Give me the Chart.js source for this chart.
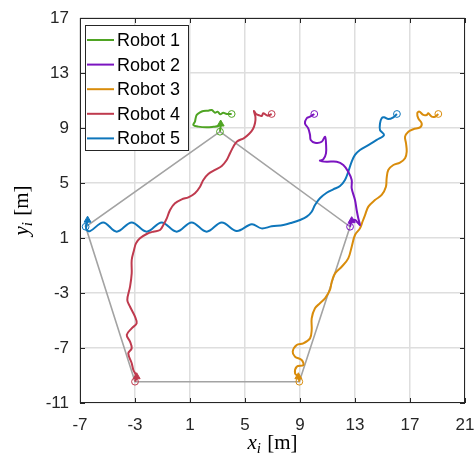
<!DOCTYPE html>
<html>
<head>
<meta charset="utf-8">
<script src="https://cdn.jsdelivr.net/npm/chart.js@4/dist/chart.umd.min.js"></script>
<style>
  html, body { margin: 0; padding: 0; background: #ffffff; }
  #wrap { width: 476px; height: 462px; }
</style>
</head>
<body>
<div id="wrap"><canvas id="c" width="476" height="462"></canvas></div>
<script>
// Axis ranges and ticks
const xTicks = [-7, -3, 1, 5, 9, 13, 17, 21];
const yTicks = [-11, -7, -3, 1, 5, 9, 13, 17];

// Robot names
const robotNames = ['Robot 1', 'Robot 2', 'Robot 3', 'Robot 4', 'Robot 5'];

// Trajectories [x, y] in metres: start circle, path, heading triangle, goal circle
const robot1 = [[4.03,10.02],[3.67,10.02],[3.42,10.11],[3.2,10.0],[3.0,10.19],[2.82,10.11],[2.58,10.31],[2.33,10.26],[1.97,10.24],[1.73,10.14],[1.49,9.95],[1.41,9.71],[1.36,9.46],[1.24,9.22],[1.6,9.1],[2.21,9.05],[2.69,9.09],[3.06,9.15],[3.23,9.29],[3.18,8.73]];
const robot2 = [[10.04,10.02],[9.73,9.82],[9.49,9.71],[9.36,9.34],[9.6,8.98],[9.73,8.49],[9.78,8.13],[10.09,7.93],[10.58,8.0],[10.82,8.37],[10.89,7.89],[10.89,7.16],[10.69,6.72],[10.45,6.62],[10.94,6.55],[11.67,6.55],[12.15,6.31],[12.51,5.82],[12.76,5.22],[12.76,4.61],[13.0,3.76],[13.12,3.04],[13.24,2.43],[13.36,1.95],[13.24,2.07],[13.0,2.31],[12.76,2.26],[12.64,1.82]];
const robot3 = [[19.06,10.02],[18.82,9.82],[18.58,9.82],[18.33,10.07],[18.22,9.95],[17.97,9.95],[17.68,10.19],[17.53,10.07],[17.6,9.71],[17.85,9.34],[17.73,9.05],[17.24,8.91],[16.88,8.73],[16.64,8.37],[16.71,7.89],[16.76,7.28],[16.64,6.8],[16.27,6.48],[15.79,6.31],[15.42,5.95],[15.3,5.34],[15.25,4.73],[14.94,4.13],[14.45,3.76],[13.97,3.28],[13.73,2.67],[13.55,2.2],[13.36,1.7],[13.0,1.22],[12.76,0.37],[12.51,-0.48],[12.03,-1.09],[11.55,-1.57],[11.31,-2.18],[11.18,-2.78],[10.82,-3.39],[10.45,-3.75],[10.09,-4.11],[9.85,-4.84],[9.85,-5.69],[9.73,-6.3],[9.24,-6.66],[8.76,-6.78],[8.47,-7.27],[8.64,-7.63],[9.12,-7.87],[9.24,-8.24],[8.76,-8.36],[8.64,-8.84],[8.88,-9.09],[8.95,-9.45]];
const robot4 = [[6.94,10.02],[6.69,9.9],[6.53,9.95],[6.33,10.07],[6.21,9.87],[5.97,9.95],[5.8,10.02],[5.65,10.24],[5.76,9.8],[5.73,9.36],[5.58,8.93],[5.29,8.56],[4.93,8.27],[4.42,8.02],[4.15,7.64],[3.91,7.16],[3.67,6.67],[3.31,6.24],[2.82,5.95],[2.33,5.65],[1.97,5.22],[1.73,4.73],[1.36,4.25],[0.88,3.96],[0.4,3.81],[-0.09,3.52],[-0.45,3.04],[-0.69,2.43],[-0.94,1.95],[-1.18,1.58],[-1.67,1.46],[-2.15,1.29],[-2.64,0.98],[-2.93,0.61],[-3.07,0.13],[-3.24,-0.6],[-3.24,-1.57],[-3.36,-2.54],[-3.56,-3.51],[-3.36,-4.0],[-3.0,-4.72],[-2.88,-5.2],[-3.24,-5.57],[-3.6,-6.05],[-3.36,-6.54],[-3.24,-7.02],[-3.49,-7.39],[-3.24,-8.11],[-3.12,-8.6],[-2.88,-9.09],[-3.0,-9.45]];
const robot5 = [[16.05,10.02],[15.79,9.78],[15.42,9.65],[15.11,9.78],[14.94,9.71],[14.82,9.34],[14.82,8.85],[15.11,8.49],[14.58,8.13],[13.97,7.76],[13.36,7.4],[13.0,7.04],[12.76,6.55],[12.51,5.82],[12.27,5.22],[11.91,4.78],[11.42,4.54],[10.94,4.29],[10.45,3.89],[10.09,3.4],[9.85,2.91],[9.49,2.55],[9.0,2.31],[8.4,2.11],[7.79,1.95],[6.94,1.85],[6.2,1.7],[5.49,2.0],[4.4,1.51],[3.31,2.13],[2.21,1.46],[1.12,2.13],[0.03,1.46],[-1.06,2.13],[-2.15,1.46],[-3.24,2.13],[-4.33,1.46],[-5.31,2.13],[-6.27,1.5],[-6.55,1.65],[-6.45,2.3],[-6.59,1.82]];

// Formation pentagon (closed)
const formation = [[3.18,8.73],[-6.59,1.82],[-3.0,-9.45],[8.95,-9.45],[12.64,1.82],[3.18,8.73]];

const robotColors = ['#4fa423', '#7b14c0', '#d98c0b', '#bf3a4e', '#0e76bb'];
const robotPaths = [robot1, robot2, robot3, robot4, robot5];

const toXY = arr => arr.map(p => ({ x: p[0], y: p[1] }));

const robotDatasets = robotPaths.map((path, k) => ({
  label: robotNames[k],
  data: toXY(path),
  showLine: true,
  borderColor: robotColors[k],
  borderWidth: 2,
  tension: 0.35,
  pointStyle: ctx => (ctx.dataIndex === path.length - 2 ? 'triangle' : 'circle'),
  pointRadius: ctx => {
    const i = ctx.dataIndex;
    if (i === 0 || i === path.length - 1) return 3.4;
    if (i === path.length - 2) return 4;
    return 0;
  },
  pointBorderWidth: 1,
  pointBorderColor: robotColors[k],
  pointBackgroundColor: ctx => (ctx.dataIndex === path.length - 2 ? robotColors[k] : 'rgba(255,255,255,0)'),
  order: 1
}));

const formationDataset = {
  label: 'formation',
  data: toXY(formation),
  showLine: true,
  borderColor: '#a3a3a3',
  borderWidth: 1.6,
  tension: 0,
  pointRadius: 0,
  order: 2
};

const AXIS_COLOR = '#262626';

// Box outline, inward tick marks, legend box and LaTeX-style axis titles
const decorations = {
  id: 'decorations',
  afterDraw(chart) {
    const ctx = chart.ctx;
    const a = chart.chartArea;
    const xs = chart.scales.x, ys = chart.scales.y;
    ctx.save();
    ctx.strokeStyle = AXIS_COLOR;
    ctx.lineWidth = 1;
    ctx.strokeRect(a.left + 0.5, a.top + 0.5, a.right - a.left - 1, a.bottom - a.top - 1);
    const tl = 5;
    ctx.beginPath();
    xTicks.forEach(v => {
      const px = Math.round(xs.getPixelForValue(v)) + 0.5;
      ctx.moveTo(px, a.bottom); ctx.lineTo(px, a.bottom - tl);
      ctx.moveTo(px, a.top); ctx.lineTo(px, a.top + tl);
    });
    yTicks.forEach(v => {
      const py = Math.round(ys.getPixelForValue(v)) + 0.5;
      ctx.moveTo(a.left, py); ctx.lineTo(a.left + tl, py);
      ctx.moveTo(a.right, py); ctx.lineTo(a.right - tl, py);
    });
    ctx.stroke();

    // legend
    const lx = a.left + 5, ly = 25, lw = 103, lh = 125;
    ctx.fillStyle = '#ffffff';
    ctx.fillRect(lx, ly, lw, lh);
    ctx.strokeStyle = AXIS_COLOR;
    ctx.lineWidth = 1;
    ctx.strokeRect(lx + 0.5, ly + 0.5, lw, lh);
    ctx.font = '18px "Liberation Sans", Arial, sans-serif';
    ctx.textBaseline = 'middle';
    ctx.textAlign = 'left';
    robotNames.forEach((name, k) => {
      const cy = 40 + k * 24.6;
      ctx.strokeStyle = robotColors[k];
      ctx.lineWidth = 2;
      ctx.beginPath();
      ctx.moveTo(lx + 2, cy); ctx.lineTo(lx + 29, cy);
      ctx.stroke();
      ctx.fillStyle = '#000000';
      ctx.fillText(name, lx + 32, cy + 1);
    });

    // axis titles: x_i [m] and y_i [m]
    const drawTitle = (sym, cx, cy, rot) => {
      ctx.save();
      ctx.translate(cx, cy);
      if (rot) ctx.rotate(-Math.PI / 2);
      const fMain = 'italic 21px "Liberation Serif", "DejaVu Serif", serif';
      const fSub = 'italic 15px "Liberation Serif", "DejaVu Serif", serif';
      const fUnit = '21px "Liberation Serif", "DejaVu Serif", serif';
      ctx.font = fMain; const w1 = ctx.measureText(sym).width;
      ctx.font = fSub; const w2 = ctx.measureText('i').width;
      ctx.font = fUnit; const w3 = ctx.measureText(' [m]').width;
      let x0 = -(w1 + w2 + 1 + w3) / 2;
      ctx.fillStyle = '#000000';
      ctx.textBaseline = 'alphabetic';
      ctx.textAlign = 'left';
      ctx.font = fMain; ctx.fillText(sym, x0, 6); x0 += w1;
      ctx.font = fSub; ctx.fillText('i', x0, 10); x0 += w2 + 1;
      ctx.font = fUnit; ctx.fillText(' [m]', x0, 6);
      ctx.restore();
    };
    drawTitle('x', (a.left + a.right) / 2, 443, false);
    drawTitle('y', 22, (a.top + a.bottom) / 2, true);
    ctx.restore();
  }
};

const tickFont = { family: '"Liberation Sans", Arial, sans-serif', size: 17 };

new Chart(document.getElementById('c'), {
  type: 'scatter',
  data: { datasets: [...robotDatasets, formationDataset] },
  options: {
    responsive: false,
    animation: false,
    devicePixelRatio: 1,
    layout: { padding: { left: 0, right: 11, top: 18, bottom: 0 } },
    plugins: { legend: { display: false }, tooltip: { enabled: false } },
    scales: {
      x: {
        type: 'linear', min: -7, max: 21,
        afterBuildTicks: s => { s.ticks = xTicks.map(v => ({ value: v })); },
        afterFit: s => { s.height = 59; s.paddingLeft = 0; s.paddingRight = 0; },
        ticks: { color: AXIS_COLOR, font: tickFont, padding: 12, maxRotation: 0 },
        grid: { color: '#dedede', lineWidth: 1.5, drawTicks: false },
        border: { display: false }
      },
      y: {
        type: 'linear', min: -11, max: 17,
        afterBuildTicks: s => { s.ticks = yTicks.map(v => ({ value: v })); },
        afterFit: s => { s.width = 80; s.paddingTop = 0; s.paddingBottom = 0; },
        ticks: { color: AXIS_COLOR, font: tickFont, padding: 11 },
        grid: { color: '#dedede', lineWidth: 1.5, drawTicks: false },
        border: { display: false }
      }
    }
  },
  plugins: [decorations]
});
</script>
</body>
</html>
